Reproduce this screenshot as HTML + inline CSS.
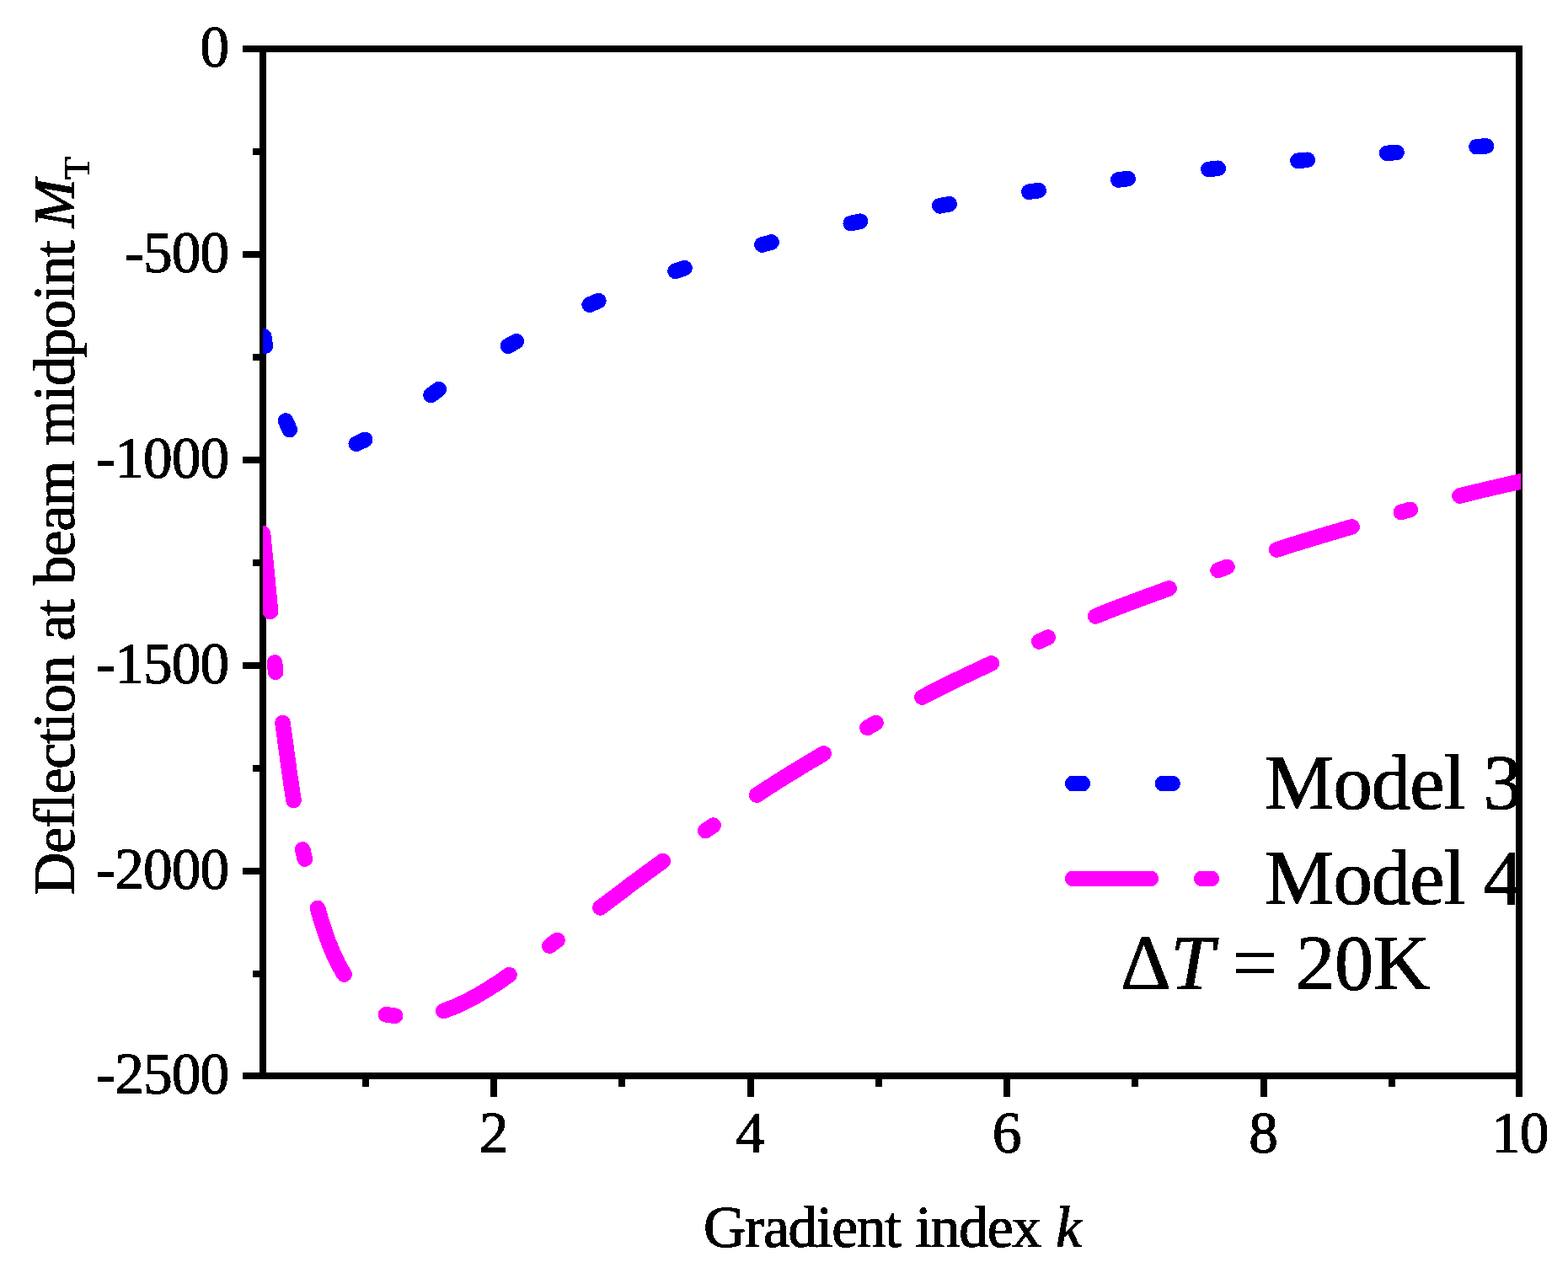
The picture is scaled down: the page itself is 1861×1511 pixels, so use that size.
<!DOCTYPE html>
<html lang="en">
<head>
<meta charset="utf-8">
<title>Deflection at beam midpoint vs gradient index k</title>
<style>
html,body{margin:0;padding:0;background:#fff;}
body{width:1861px;height:1511px;overflow:hidden;}
svg{display:block;}
text{font-family:"Liberation Serif",serif;fill:#000;stroke:#000;stroke-width:1.2px;stroke-linejoin:round;}
.tk{font-size:69.4px;letter-spacing:-0.9px;}
.lg{font-size:92.6px;letter-spacing:-0.9px;}
.it{font-style:italic;}
</style>
</head>
<body>
<svg width="1861" height="1511" viewBox="0 0 1861 1511">
<defs>
<clipPath id="plot"><rect x="312" y="58" width="1493" height="1220"/></clipPath>
<filter id="hard" x="0" y="0" width="100%" height="100%" filterUnits="userSpaceOnUse" color-interpolation-filters="sRGB"><feComponentTransfer><feFuncA type="discrete" tableValues="0 1"/></feComponentTransfer></filter>
</defs>
<rect x="0" y="0" width="1861" height="1511" fill="#fff"/>
<g id="labels" filter="url(#hard)">
<g class="tk" text-anchor="end">
<text x="271.4" y="78.8">0</text>
<text x="271.4" y="322.8">-500</text>
<text x="271.4" y="566.8">-1000</text>
<text x="271.4" y="810.8">-1500</text>
<text x="271.4" y="1054.8">-2000</text>
<text x="271.4" y="1298">-2500</text>
</g>
<g class="tk" text-anchor="middle">
<text x="585.7" y="1368.4">2</text>
<text x="890.2" y="1368.4">4</text>
<text x="1194.7" y="1368.4">6</text>
<text x="1499.2" y="1368.4">8</text>
<text x="1803.7" y="1368.4">10</text>
</g>
<text class="tk" style="font-size:69.7px;letter-spacing:-1.3px;word-spacing:2px" x="835" y="1480">Gradient index <tspan class="it">k</tspan></text>
<text class="tk" style="font-size:69.7px;letter-spacing:-1.1px;word-spacing:2px" transform="translate(88 1062) rotate(-90)" x="0" y="0">Deflection at beam midpoint <tspan class="it" dx="-2">M</tspan><tspan font-size="45" dy="18">T</tspan></text>
<text class="lg" x="1501" y="960">Model 3</text>
<text class="lg" x="1501" y="1073">Model 4</text>
<text class="lg" style="font-size:92.8px;letter-spacing:-0.4px" x="1330" y="1174">Δ<tspan class="it">T</tspan> = 20K</text>
</g>
<g id="axes" fill="#000" shape-rendering="crispEdges">
<rect x="308" y="54" width="8" height="1227"/>
<rect x="1799" y="54" width="8" height="1248"/>
<rect x="288" y="54" width="1519" height="8"/>
<rect x="288" y="1273" width="1519" height="8"/>
<rect x="288" y="298" width="20" height="8"/>
<rect x="288" y="542" width="20" height="8"/>
<rect x="288" y="786" width="20" height="8"/>
<rect x="288" y="1030" width="20" height="8"/>
<rect x="300" y="176" width="8" height="8"/>
<rect x="300" y="420" width="8" height="8"/>
<rect x="300" y="664" width="8" height="8"/>
<rect x="300" y="908" width="8" height="8"/>
<rect x="300" y="1152" width="8" height="8"/>
<rect x="582" y="1281" width="8" height="21"/>
<rect x="887" y="1281" width="8" height="21"/>
<rect x="1191" y="1281" width="8" height="21"/>
<rect x="1496" y="1281" width="8" height="21"/>
<rect x="430" y="1281" width="8" height="9"/>
<rect x="734" y="1281" width="8" height="9"/>
<rect x="1039" y="1281" width="8" height="9"/>
<rect x="1343" y="1281" width="8" height="9"/>
<rect x="1648" y="1281" width="8" height="9"/>
</g>
<g id="curves" fill="none" stroke-width="18.6" stroke-linecap="round" stroke-linejoin="round" shape-rendering="crispEdges">
<g clip-path="url(#plot)">
<path stroke="#0000ff" d="M313.2 399.3 L314.8 410.7 M339.1 499.5 L343.7 510.1 M422.8 526.7 L433.2 521.9 M511.5 469 L520.7 462.2 M603 410.7 L613 405.1 M699.7 361.7 L710.3 357.1 M801.6 321.8 L812.4 318.2 M904.4 290.5 L915.6 287.5 M1009.8 265.1 L1021 262.7 M1115.3 244.3 L1126.7 242.3 M1221.3 227.7 L1232.7 226.1 M1327.3 213.5 L1338.7 212.1 M1434.3 201 L1445.7 199.8 M1540.3 190.8 L1551.7 189.8 M1646.1 181.9 L1657.5 180.9 M1752.5 174.2 L1763.9 173.4"/>
<path stroke="#ff00ff" d="M312 633 L313.4 648.5 L315 664 L316.6 679.5 L318.1 695 L319.6 710.5 L321 726 M326 786.3 L327.2 797.7 M335.5 858 L337.6 873.3 L339.7 888.7 L341.8 904 L343.9 919.4 L346.2 934.7 L348.5 950 M359.2 1008.4 L361.8 1019.6 M377 1078 L380.9 1091.5 L385.2 1104.9 L389.9 1118.1 L395.2 1131.1 L401.3 1143.9 L408.5 1156.5 M457.8 1204.2 L469.2 1205.8 M526.3 1200 L540.5 1194.6 L554.1 1188.3 L567.2 1181.2 L579.9 1173.6 L592.3 1165.6 L604.5 1157.2 M652.3 1122.7 L661.5 1115.9 M712.3 1077.4 L724.6 1068.1 L737 1058.8 L749.3 1049.5 L761.7 1040.3 L774.2 1031.2 L786.7 1022.1 M837.2 986.2 L846.6 979.6 M898.2 943.6 L911.2 935.1 L924.4 926.7 L937.6 918.5 L950.9 910.4 L964.3 902.4 L977.7 894.4 M1029.5 863.8 L1039.5 858 M1094.3 827.6 L1107.9 820.6 L1121.6 813.7 L1135.3 807 L1149.1 800.4 L1162.9 793.9 L1176.8 787.4 M1233.3 761.4 L1243.7 756.6 M1300.2 731.5 L1314.6 725.6 L1329.1 720 L1343.7 714.5 L1358.3 709.1 L1373 703.8 L1387.6 698.4 M1445.6 676.9 L1456.4 672.9 M1515.2 652.5 L1530 647.7 L1544.9 643.1 L1559.8 638.6 L1574.7 634.1 L1589.7 629.7 L1604.6 625.3 M1662.9 608 L1673.9 604.8 M1732.5 588.6 L1746.2 585.1 L1759.9 581.8 L1773.7 578.6 L1787.4 575.4 L1801.2 572.3 L1815 569.2"/>
</g>
<path stroke="#0000ff" d="M1273.2 930 H1284.8 M1380 930 H1391.6"/>
<path stroke="#ff00ff" d="M1273.2 1042.8 H1365.8 M1426.2 1042.8 H1437.8"/>
</g>
</svg>
</body>
</html>
